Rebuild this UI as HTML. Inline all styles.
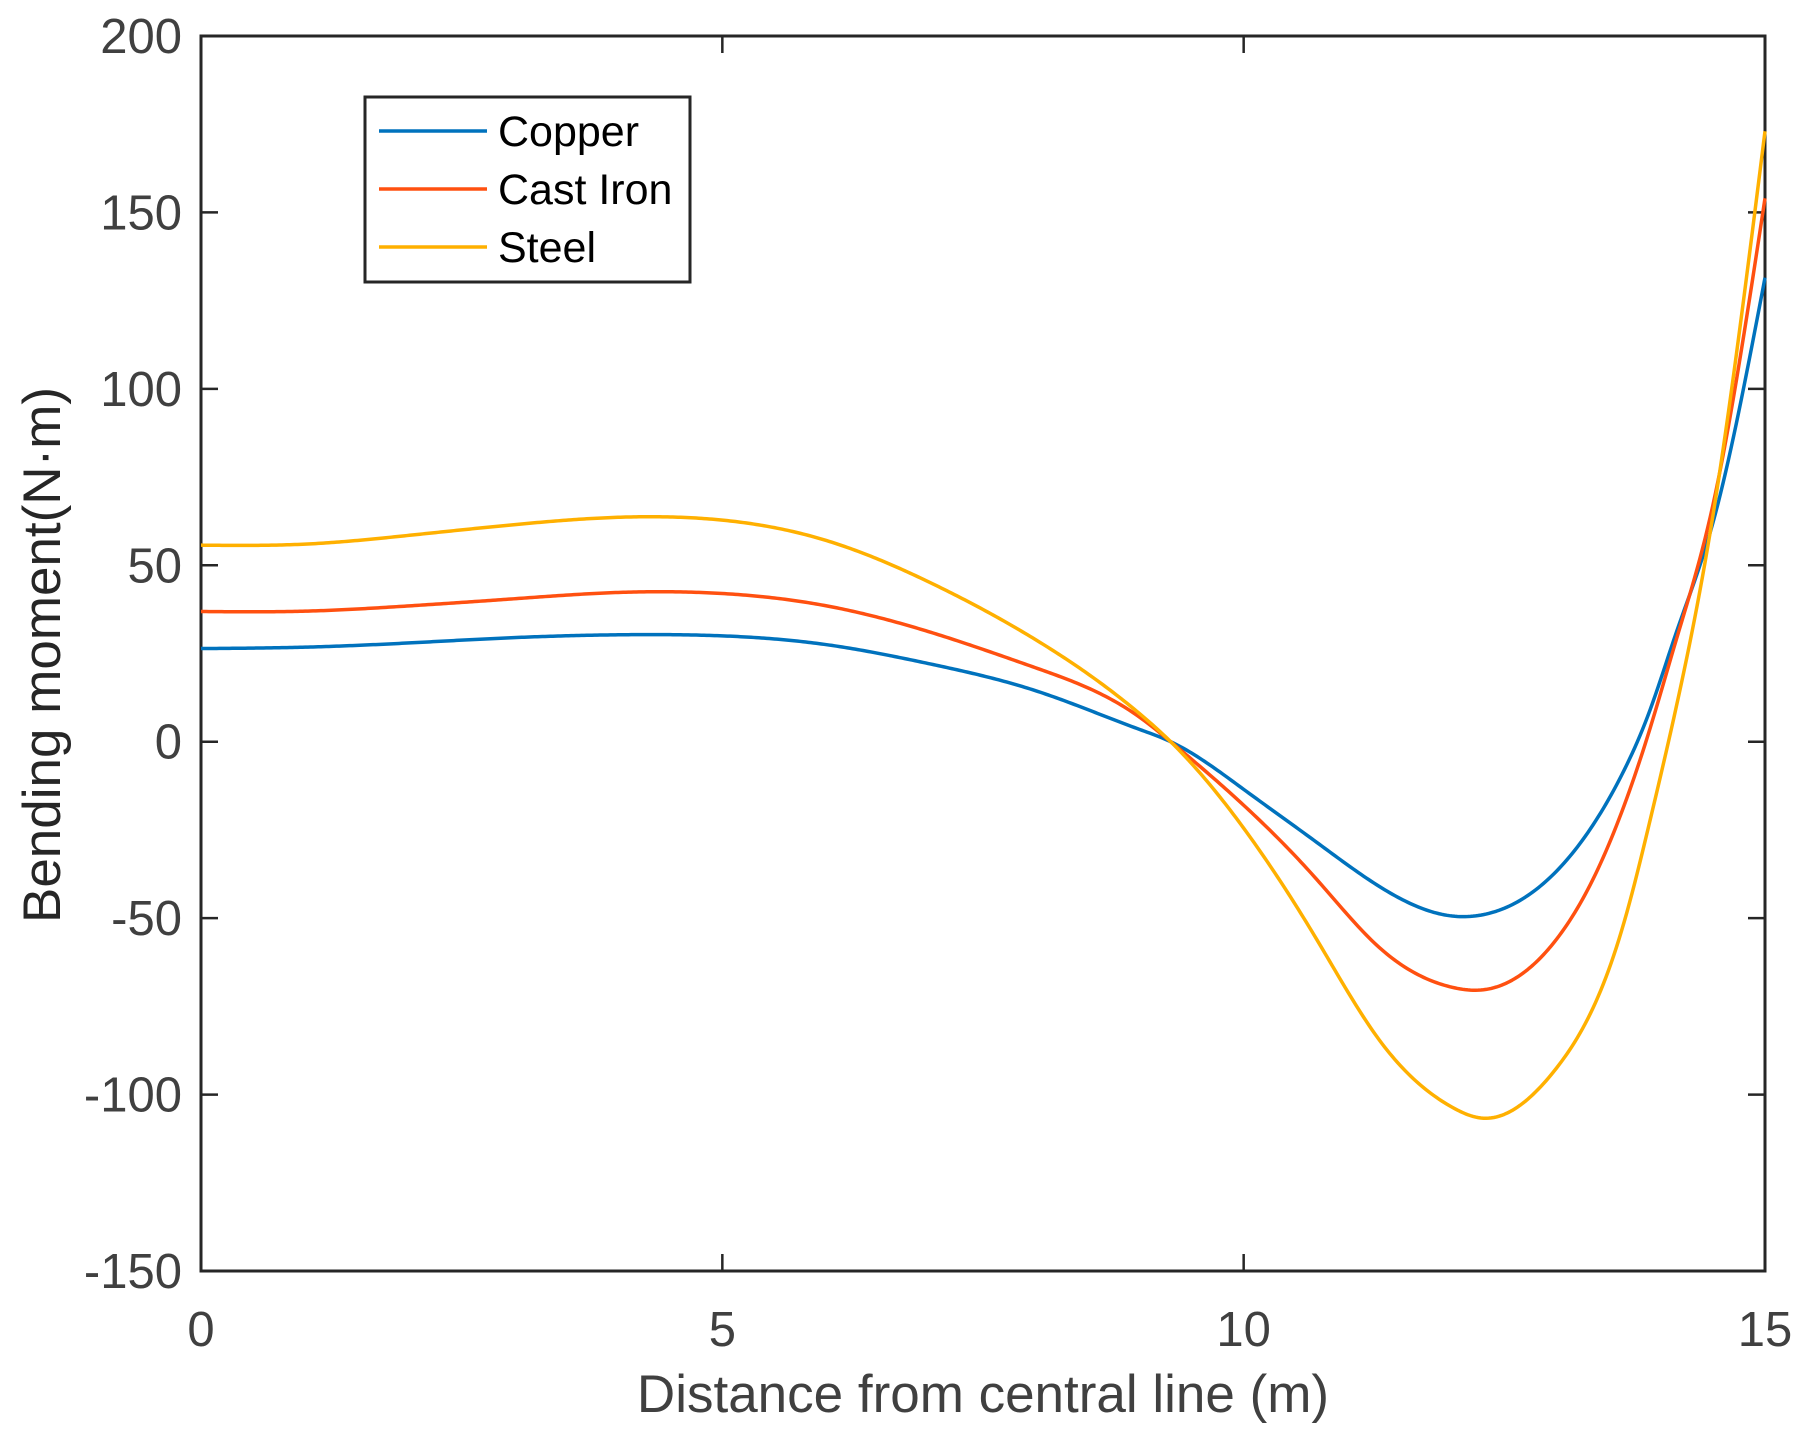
<!DOCTYPE html>
<html><head><meta charset="utf-8"><style>
html,body{margin:0;padding:0;background:#fff;}
svg{display:block;font-family:"Liberation Sans",Arial,sans-serif;}
</style></head><body>
<svg id="chart" width="1801" height="1439" viewBox="0 0 1801 1439" xmlns="http://www.w3.org/2000/svg">
<rect width="1801" height="1439" fill="#fff"/>
<g id="axes"></g>
<g id="series"></g>
<g id="legend"></g>
</svg>
<script>
const xValues = [0,1,2,3,4,5,6,7,8,9,9.3,10,10.7,11.3,12,12.3,13,13.35,13.65,13.9,14.15,14.5,15];
const copper = [26.4,26.8,28,29.5,30.3,30,27.5,22,14.5,3.5,0,-13.5,-28.5,-41,-49.4,-49,-36.7,-23.6,-8,9.2,31,62,131.5];
const castIron = [36.9,37,38.5,40.5,42.3,42,38.5,31,21,7,0,-18,-39,-58.3,-69.6,-70.3,-56,-39,-18,4,29,67,154];
const steel = [55.7,56,58.5,61.5,63.6,62.8,57,45,29,8,0,-24.5,-56,-84.5,-103.6,-106.7,-92.5,-75.5,-51,-22,10,64,173];
const xTicks = [0,5,10,15];
const yTicks = [-150,-100,-50,0,50,100,150,200];
const seriesNames = ["Copper","Cast Iron","Steel"];
const seriesColors = ["#0072BD","#FF5010","#FFB000"];

const L=201,R=1765,T=36,B=1271;
const xMin=0,xMax=15,yMin=-150,yMax=200;
function sx(v){return L+(v-xMin)/(xMax-xMin)*(R-L);}
function sy(v){return B-(v-yMin)/(yMax-yMin)*(B-T);}
const NS="http://www.w3.org/2000/svg";
function mk(tag,attrs,parent){const e=document.createElementNS(NS,tag);for(const k in attrs)e.setAttribute(k,attrs[k]);parent.appendChild(e);return e;}
const axes=document.getElementById('axes');
const ax="#262626", tc="#404040";
xTicks.forEach(t=>{
  const x=sx(t);
  const a=mk('line',{x1:x,y1:B,x2:x,y2:B-17,stroke:ax,'stroke-width':2.5},axes);
  
  
  const b=mk('line',{x1:x,y1:T,x2:x,y2:T+17,stroke:ax,'stroke-width':2.5},axes);
  
  
  const tx=mk('text',{x:x,y:1346,'text-anchor':'middle','font-size':49,fill:tc},axes);
  tx.textContent=t;
  
  
});
yTicks.forEach(t=>{
  const y=sy(t);
  const a=mk('line',{x1:L,y1:y,x2:L+17,y2:y,stroke:ax,'stroke-width':2.5},axes);
  
  
  const b=mk('line',{x1:R,y1:y,x2:R-17,y2:y,stroke:ax,'stroke-width':2.5},axes);
  
  
  const tx=mk('text',{x:182,y:y+17,'text-anchor':'end','font-size':49,fill:tc},axes);
  tx.textContent=t;
  
  
});
const frame=mk('rect',{x:L,y:T,width:R-L,height:B-T,fill:'none',stroke:ax,'stroke-width':3},axes);


const xl=mk('text',{x:983,y:1412,'text-anchor':'middle','font-size':53,fill:tc},axes);
xl.textContent='Distance from central line (m)';


const yl=mk('text',{x:0,y:0,'text-anchor':'middle','font-size':53,fill:'#262626',transform:'translate(60,655) rotate(-90)'},axes);
yl.textContent='Bending moment(N·m)';



function spline(xs,ys){
  const n=xs.length,h=[],a=[],l=[1],mu=[0],z=[0],c=new Array(n).fill(0),b=[],d=[];
  for(let i=0;i<n-1;i++)h[i]=xs[i+1]-xs[i];
  for(let i=1;i<n-1;i++)a[i]=3/h[i]*(ys[i+1]-ys[i])-3/h[i-1]*(ys[i]-ys[i-1]);
  for(let i=1;i<n-1;i++){l[i]=2*(xs[i+1]-xs[i-1])-h[i-1]*mu[i-1];mu[i]=h[i]/l[i];z[i]=(a[i]-h[i-1]*z[i-1])/l[i];}
  l[n-1]=1;z[n-1]=0;
  for(let j=n-2;j>=0;j--){c[j]=z[j]-mu[j]*c[j+1];b[j]=(ys[j+1]-ys[j])/h[j]-h[j]*(c[j+1]+2*c[j])/3;d[j]=(c[j+1]-c[j])/(3*h[j]);}
  return function(x){let i=0;while(i<n-2&&x>xs[i+1])i++;const t=x-xs[i];return ys[i]+b[i]*t+c[i]*t*t+d[i]*t*t*t;};
}
function pathFor(ys){
  const f=spline(xValues,ys);
  let d='';
  for(let k=0;k<=600;k++){const x=xMin+(xMax-xMin)*k/600;d+=(k?'L':'M')+sx(x).toFixed(2)+','+sy(f(x)).toFixed(2);}
  return d;
}
const sg=document.getElementById('series');
const allData=[copper,castIron,steel];
const sNames=['copper-line','cast-iron-line','steel-line'];
allData.forEach((ys,i)=>{
  const pth=mk('path',{d:pathFor(ys),fill:'none',stroke:seriesColors[i],'stroke-width':3.5,'stroke-linejoin':'round'},sg);
  
  
});
const lg=document.getElementById('legend');
const box=mk('rect',{x:365,y:97,width:325,height:185,fill:'#fff',stroke:ax,'stroke-width':3},lg);


const ly=[131,189,247];
seriesNames.forEach((n,i)=>{
  const l=mk('line',{x1:379,y1:ly[i],x2:487,y2:ly[i],stroke:seriesColors[i],'stroke-width':3.5},lg);
  
  
  const t=mk('text',{x:498,y:ly[i]+15,'font-size':43,fill:'#000'},lg);
  t.textContent=n;
  
  
});
</script>
</body></html>
